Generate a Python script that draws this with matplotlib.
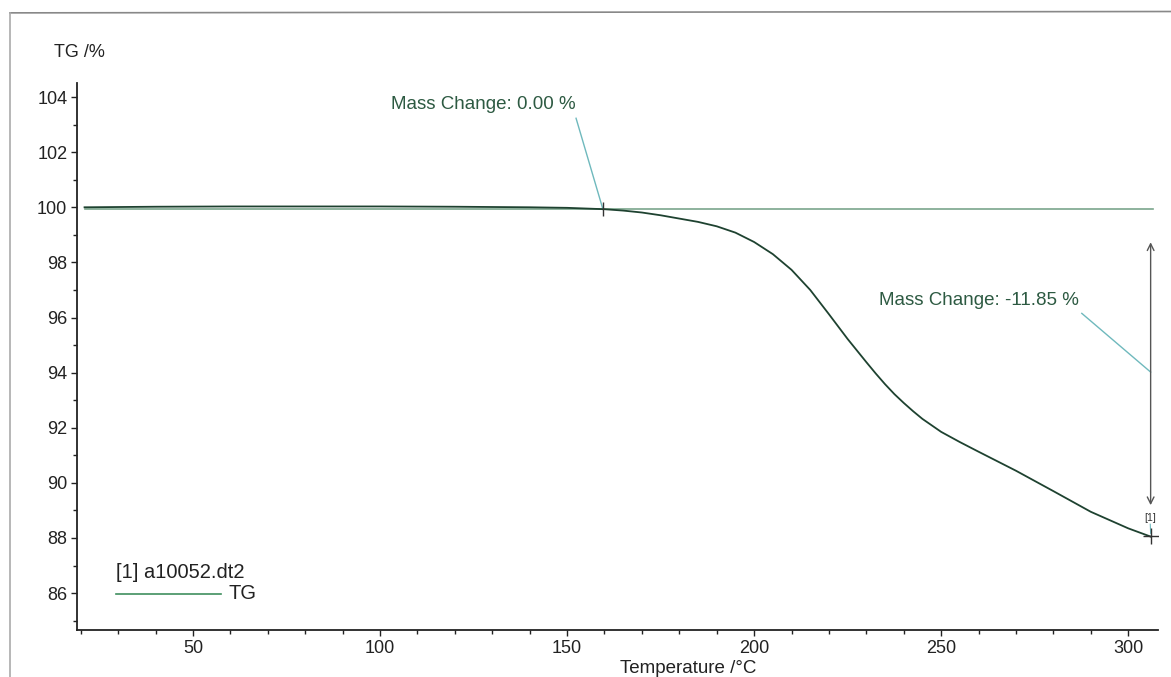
import matplotlib.pyplot as plt
from matplotlib.lines import Line2D
from matplotlib.ticker import MultipleLocator

plt.rcParams['font.family'] = ['Liberation Sans', 'DejaVu Sans']

# TG curve, temperature /°C and mass /%
temp = [21, 40, 60, 80, 100, 120, 140, 150, 160, 165, 170, 175, 180, 185, 190,
        195, 200, 205, 210, 215, 220, 225, 230, 232.5, 235, 237.5, 240, 242.5,
        245, 250, 255, 260, 270, 280, 290, 300, 306]
tg = [100.0, 100.02, 100.03, 100.03, 100.03, 100.02, 100.0, 99.98, 99.93, 99.88,
      99.81, 99.71, 99.59, 99.47, 99.31, 99.08, 98.74, 98.3, 97.73, 97.0, 96.12,
      95.22, 94.38, 93.97, 93.58, 93.22, 92.9, 92.6, 92.32, 91.85, 91.48, 91.13,
      90.44, 89.7, 88.95, 88.35, 88.05]

onset_temp = 159.6
baseline = 99.92
end_temp = 306
end_tg = 88.07
step_change = -11.85
onset_change = 0.00

TEXT_COL = '#2d5a42'
LEADER_COL = '#6fb9bd'
CURVE_COL = '#1e4230'
FS = 13.5

fig = plt.figure(figsize=(11.71, 6.77), dpi=100)
ax = fig.add_axes([0.0658, 0.0694, 0.9232, 0.8076])

ax.plot(temp, tg, color=CURVE_COL, lw=1.3, zorder=3)
ax.plot([temp[0], end_temp + 0.5], [baseline, baseline], color='#7aa58c', lw=1.2, zorder=2)

# double arrow for the mass step
ax.annotate('', xy=(end_temp, 98.73), xytext=(end_temp, 89.19),
            arrowprops=dict(arrowstyle='<->', color='#555555', lw=1.0,
                            mutation_scale=12, shrinkA=0, shrinkB=0))

# onset marker and label
ax.plot([onset_temp], [baseline], marker='|', ms=10, color='#333333', mew=1.0, zorder=4)
ax.plot([152.4, onset_temp], [103.23, baseline], color=LEADER_COL, lw=1.0)
ax.text(152.2, 103.73, 'Mass Change: {:.2f} %'.format(onset_change), ha='right', va='center',
        fontsize=FS, color=TEXT_COL)

ax.plot([287.6, end_temp], [96.15, 94.02], color=LEADER_COL, lw=1.0)
ax.text(286.8, 96.63, 'Mass Change: {:.2f} %'.format(step_change), ha='right', va='center',
        fontsize=FS, color=TEXT_COL)

# end point marker
ax.plot([end_temp], [end_tg], marker='+', ms=12, color='#333333', mew=1.0, zorder=4)
ax.plot([end_temp - 0.1, end_temp], [88.5, end_tg + 0.1], color=LEADER_COL, lw=0.8)
ax.text(end_temp - 0.1, 88.72, '[1]', ha='center', va='center', fontsize=7.5, color='#333333')

# legend block
ax.text(29.5, 86.76, '[1] a10052.dt2', ha='left', va='center', fontsize=14.5, color='#222222')
ax.plot([29.5, 57.5], [85.98, 85.98], color='#3f8f5f', lw=1.2)
ax.text(59.5, 85.98, 'TG', ha='left', va='center', fontsize=14.5, color='#222222')

ax.set_xlim(19.0, 308.0)
ax.set_ylim(84.66, 104.5)
ax.xaxis.set_major_locator(MultipleLocator(50))
ax.xaxis.set_minor_locator(MultipleLocator(10))
ax.yaxis.set_major_locator(MultipleLocator(2))
ax.yaxis.set_minor_locator(MultipleLocator(1))
ax.tick_params(which='major', length=4, width=1.0, labelsize=13, colors='#222222', pad=3)
ax.tick_params(which='minor', length=3, width=1.0, colors='#222222')
for side in ['top', 'right']:
    ax.spines[side].set_visible(False)
for side in ['left', 'bottom']:
    ax.spines[side].set_linewidth(1.3)
    ax.spines[side].set_color('#222222')

fig.text(0.5875, 0.013, 'Temperature /°C', ha='center', va='center', fontsize=FS, color='#222222')
fig.text(0.068, 0.922, 'TG /%', ha='center', va='center', fontsize=13, color='#222222')

# scan frame at top and left
fig.add_artist(Line2D([0.0085, 1.0], [0.981, 0.983], color='#888888', lw=1.2))
fig.add_artist(Line2D([0.0085, 0.0085], [0.0, 0.981], color='#aaaaaa', lw=1.2))

fig.savefig('out.png', dpi=100)
